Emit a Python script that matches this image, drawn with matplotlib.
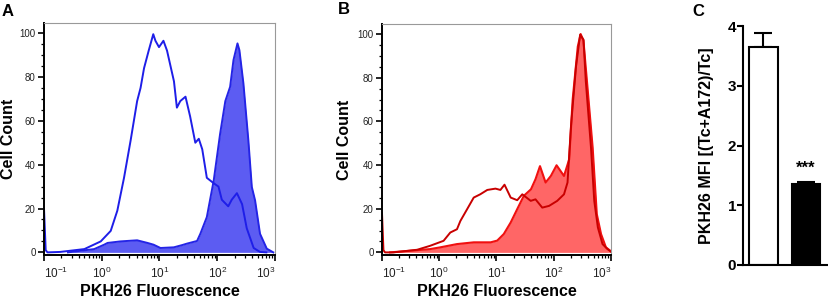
import numpy as np
import matplotlib
matplotlib.use("Agg")
import matplotlib.pyplot as plt
from matplotlib.ticker import FixedLocator, LogLocator, MultipleLocator, NullFormatter

plt.rcParams['font.family'] = ['Liberation Sans', 'DejaVu Sans']
plt.rcParams['mathtext.fontset'] = 'custom'
plt.rcParams['mathtext.rm'] = 'Liberation Sans'
plt.rcParams['mathtext.it'] = 'Liberation Sans:italic'
plt.rcParams['mathtext.bf'] = 'Liberation Sans:bold'
plt.rcParams['mathtext.default'] = 'regular'

# ---- panel A: T cells alone (open) vs T cells + A172 (filled), blue
a_open_x = [0.1, 0.107, 0.115, 0.19, 0.5, 0.96, 1.43, 1.86, 2.43, 3.16, 4.1, 4.7, 5.4,
            6.5, 7.8, 8.5, 9.8, 11.7, 13.5, 17.8, 20, 22.9, 28.2, 33.9, 41.7, 47.9,
            55, 66, 87, 105, 120, 155, 178, 219, 269, 324, 427, 550, 708]
a_open_y = [20, 1, 0, 0.2, 1.5, 5, 9.8, 19, 34, 51, 69, 75, 84,
            92, 99.5, 96.5, 93.6, 96.5, 92, 78, 66, 69, 71, 62, 50, 51.8,
            47, 34, 31.5, 30, 24, 21, 24, 27, 22, 11, 2, 0.2, 0]
a_fill_x = [0.26, 0.74, 1.1, 1.26, 2.1, 4.1, 6.2, 7.9, 10.4, 17.7, 24.5, 30, 44.7,
            51, 66, 87, 112, 138, 167, 191, 224, 242, 284, 346, 397, 452, 550, 720, 935]
a_fill_y = [0, 1.5, 3.5, 4.3, 5, 5.5, 4.3, 3.5, 2, 2.3, 3.3, 4, 5.2,
            8.5, 16.1, 32.9, 54, 69, 75.5, 87.7, 95.3, 92.2, 77, 51, 29.8, 23.7, 8.5, 1.7, 0]

# ---- panel B: same, red
b_open_x = [0.1, 0.106, 0.113, 0.158, 0.41, 0.69, 1.19, 1.56, 2.04, 2.34, 3.07, 4.0, 5.2,
            6.9, 9.6, 11.7, 13.8, 17.7, 23, 28.2, 39.6, 48, 63, 83, 115, 151, 174,
            200, 245, 289, 331, 363, 447, 510, 590, 711, 870, 1000]
b_open_y = [18, 1, 0, 0, 1.2, 3.0, 5.3, 9.1, 10.6, 14.4, 19.8, 25.1, 26.6,
            28.6, 29.2, 28.6, 31, 25.1, 23.9, 26.6, 23.6, 24.3, 20.5, 21.3, 23.6, 26.6, 32,
            57.8, 85.2, 99.7, 97.4, 78.4, 48, 23.6, 11.4, 3.8, 1.5, 0.3]
b_fill_x = [0.138, 0.27, 0.69, 1.04, 2.04, 4.0, 7.9, 10.3, 13.4, 17.7, 23, 30, 40, 48,
            57.5, 72, 89, 112, 151, 186, 214, 263, 295, 330, 390, 478, 565, 670, 815, 1000]
b_fill_y = [0, 0.6, 1.5, 2.3, 3.8, 4.6, 4.6, 5.4, 8.4, 13.7, 19.8, 25.9, 28.9, 33.5,
            39.5, 32, 35, 39.9, 35, 42.6, 70, 94.3, 100, 97, 75, 48, 17.5, 8.4, 2.3, 0.5]

# ---- panel C: MFI ratio bars
groups = ['Tc', 'Tc+A172']
mfi_mean = [3.65, 1.35]
mfi_sem = [0.23, 0.04]

decades = [0.1, 1, 10, 100, 1000]
decade_labels = ['$10^{-1}$', '$10^{0}$', '$10^{1}$', '$10^{2}$', '$10^{3}$']

W, H = 829, 301
fig = plt.figure(figsize=(W / 100, H / 100), dpi=100)


def px_axes(l, t, r, b):
    return fig.add_axes([l / W, 1 - b / H, (r - l) / W, (b - t) / H])


def style_hist(ax, ylab_x):
    ax.set_xscale('log')
    ax.set_xlim(0.1, 1000)
    ax.set_ylim(-1.2, 104.6)
    ax.xaxis.set_major_locator(FixedLocator(decades))
    ax.set_xticklabels(decade_labels)
    ax.xaxis.set_minor_locator(LogLocator(base=10, subs=np.arange(2, 10)))
    ax.xaxis.set_minor_formatter(NullFormatter())
    ax.yaxis.set_major_locator(MultipleLocator(20))
    ax.yaxis.set_minor_locator(MultipleLocator(5))
    for side in ['top', 'right']:
        ax.spines[side].set_color('#999999')
        ax.spines[side].set_linewidth(0.8)
    for side in ['left', 'bottom']:
        ax.spines[side].set_linewidth(1.4)
    ax.tick_params(which='major', length=4, width=1.2, labelsize=7, colors='black',
                   labelcolor='#222222', pad=2)
    ax.tick_params(which='minor', length=2.5, width=0.9)
    ax.tick_params(axis='x', labelsize=8.5, pad=4)
    labels = ax.get_xticklabels()
    labels[0].set_horizontalalignment('left')
    labels[-1].set_horizontalalignment('right')
    ax.set_xlabel('PKH26 Fluorescence', fontsize=11.5, fontweight='bold', labelpad=2)
    ax.set_ylabel('Cell Count', fontsize=11.5, fontweight='bold')
    ax.yaxis.set_label_coords(ylab_x, 0.5)


ax_a = px_axes(44, 23, 275, 255)
ax_a.fill_between(a_fill_x, a_fill_y, color='#5c5cf2', lw=0)
ax_a.plot(a_fill_x, a_fill_y, color='#2424e6', lw=1.4)
ax_a.plot(a_open_x, a_open_y, color='#1e1ee8', lw=1.4)
style_hist(ax_a, (16 - 44) / 231)

ax_b = px_axes(382, 24, 611, 255)
ax_b.fill_between(b_fill_x, b_fill_y, color='#ff6666', lw=0)
ax_b.plot(b_fill_x, b_fill_y, color='#f01010', lw=1.5)
ax_b.plot(b_open_x, b_open_y, color='#c80000', lw=1.4)
style_hist(ax_b, (352 - 382) / 229)

ax_c = px_axes(743, 26, 829, 265)
xpos = np.arange(len(groups))
ax_c.bar(xpos, mfi_mean, width=0.68, color=['white', 'black'], edgecolor='black', lw=1.5, zorder=2)
ax_c.errorbar(xpos, mfi_mean, yerr=[[0, 0], mfi_sem], fmt='none', ecolor='black',
              elinewidth=1.5, capsize=6.5, capthick=1.5, zorder=1)
ax_c.text(xpos[1], mfi_mean[1] + mfi_sem[1] + 0.1, '***', ha='center', va='bottom',
          fontsize=12, fontweight='bold')
ax_c.set_xlim(-0.48, 1.54)
ax_c.set_ylim(0, 4)
ax_c.set_yticks([0, 1, 2, 3, 4])
ax_c.set_xticks([])
ax_c.spines['top'].set_visible(False)
ax_c.spines['right'].set_visible(False)
ax_c.spines['left'].set_linewidth(1.5)
ax_c.spines['bottom'].set_linewidth(1.5)
ax_c.tick_params(axis='y', length=4, width=1.5, labelsize=11, pad=1)
for lab in ax_c.get_yticklabels():
    lab.set_fontweight('bold')
ax_c.set_ylabel('PKH26 MFI [(Tc+A172)/Tc]', fontsize=11.5, fontweight='bold')
ax_c.yaxis.set_label_coords((714 - 743) / 86, 0.5)

fig.text(8 / W, 1 - 11 / H, 'A', fontsize=12, fontweight='bold', ha='center', va='center')
fig.text(344 / W, 1 - 10 / H, 'B', fontsize=12, fontweight='bold', ha='center', va='center')
fig.text(698 / W, 1 - 12 / H, 'C', fontsize=12, fontweight='bold', ha='center', va='center')

fig.savefig('out.png', dpi=100)
